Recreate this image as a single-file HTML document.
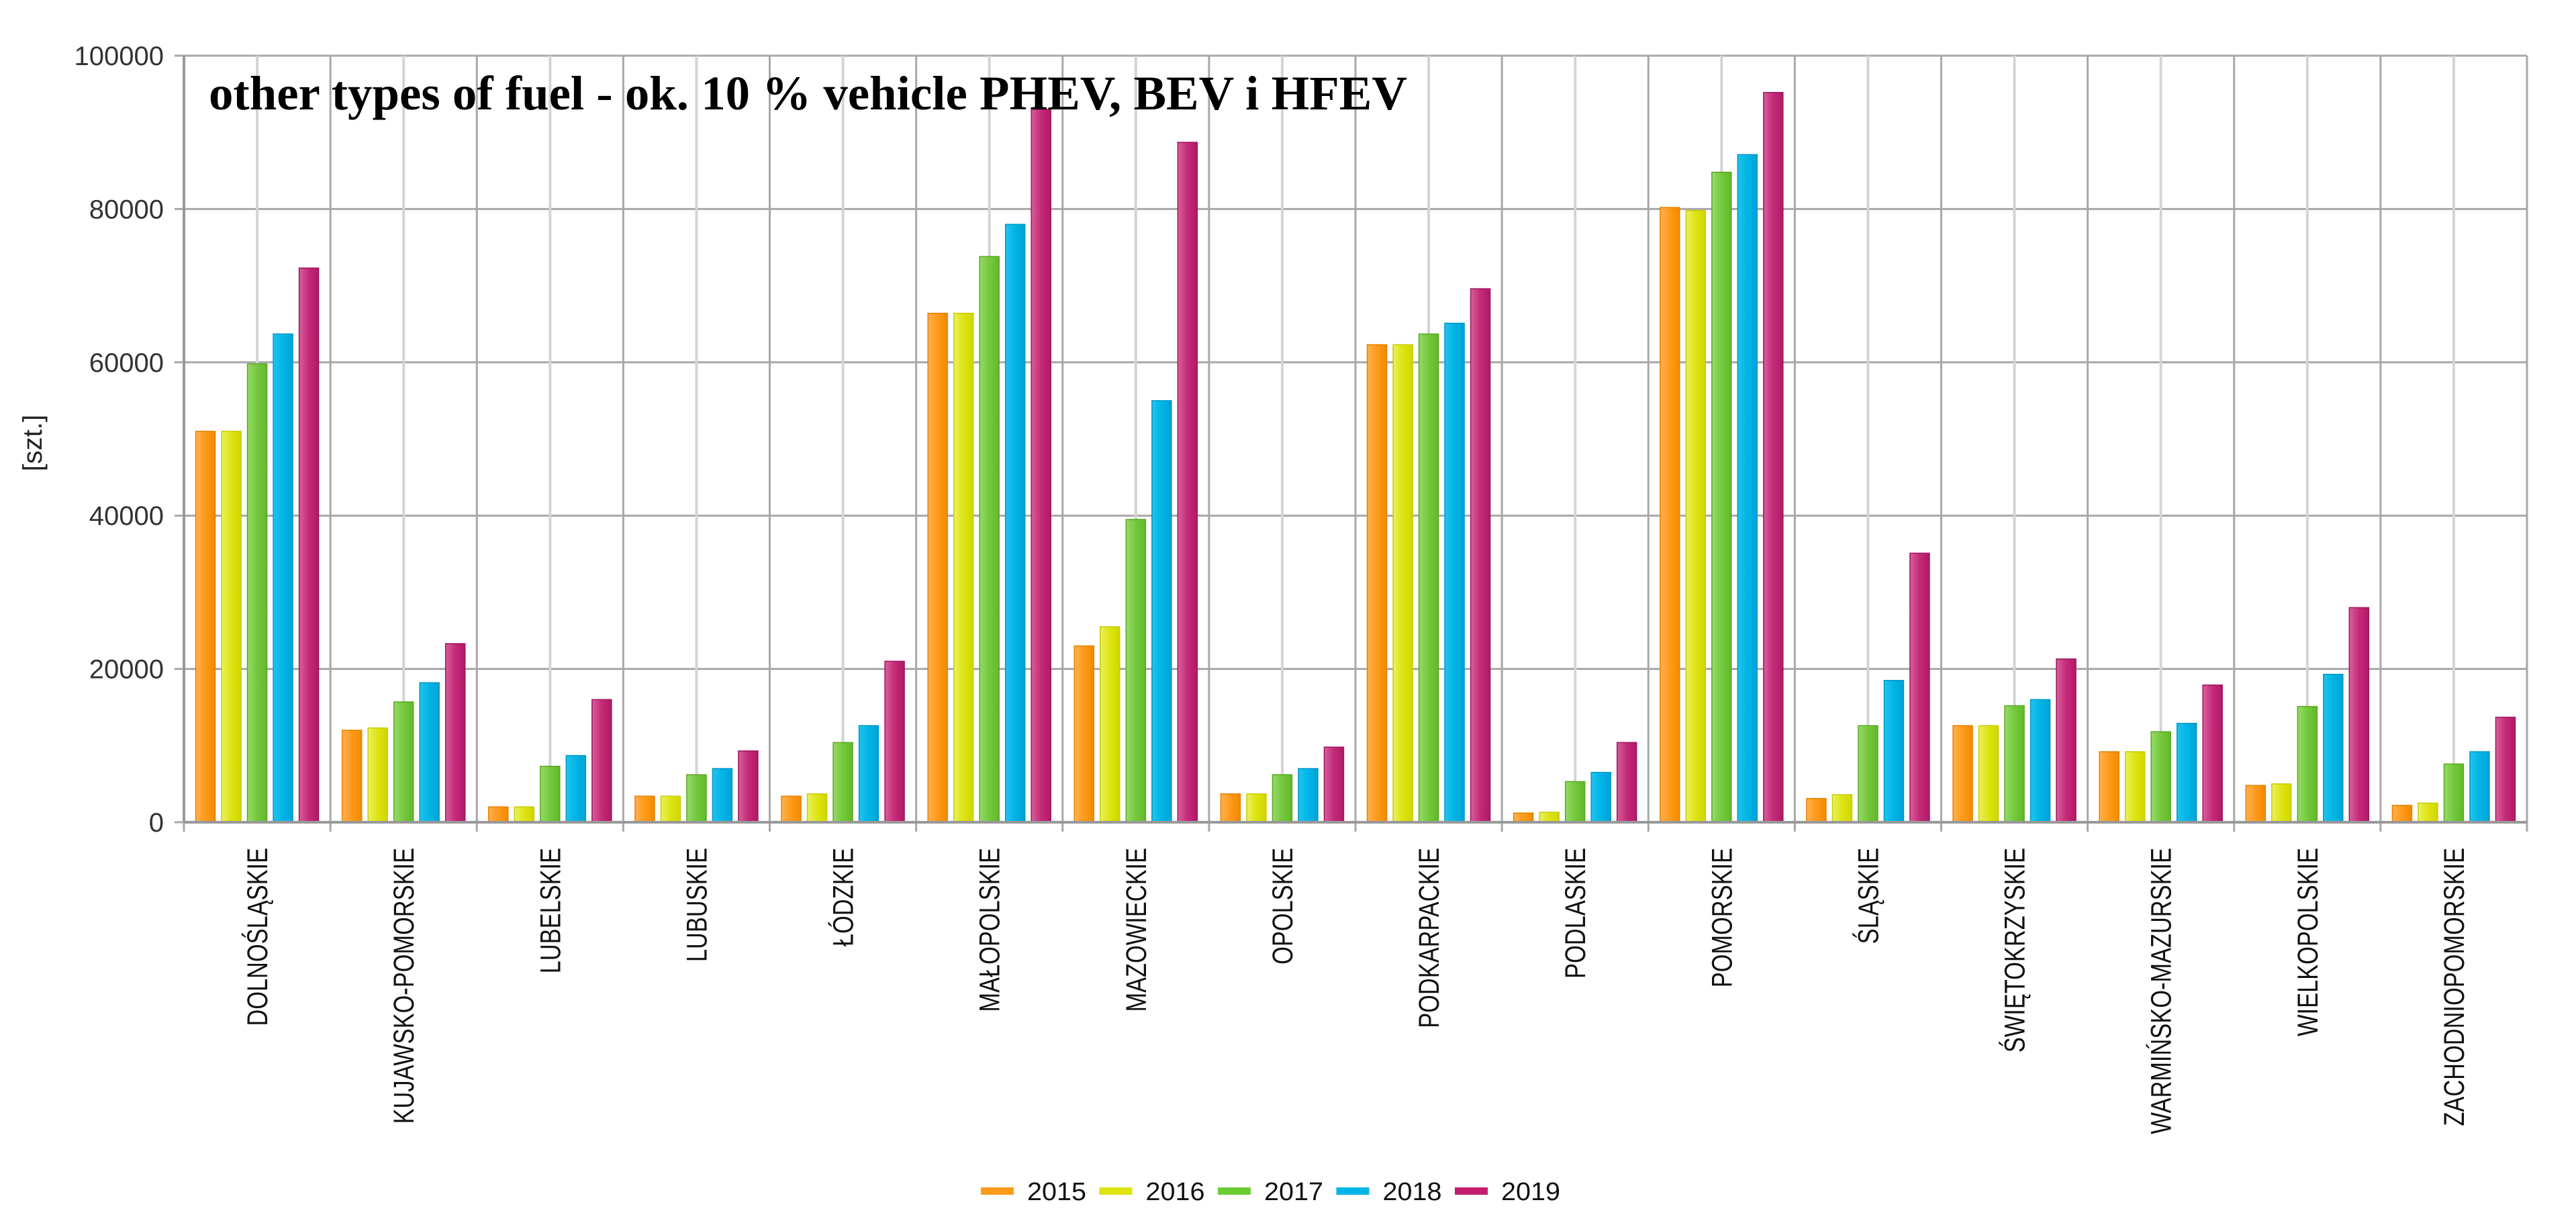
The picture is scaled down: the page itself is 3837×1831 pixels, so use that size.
<!DOCTYPE html>
<html><head><meta charset="utf-8"><style>
html,body{margin:0;padding:0;background:#fff;}
svg{display:block;}
</style></head><body>
<svg id="chart" width="3837" height="1831" viewBox="0 0 3837 1831" xmlns="http://www.w3.org/2000/svg">
<defs>
<linearGradient id="g0" x1="0" x2="1"><stop offset="0" stop-color="#ffb050"/><stop offset="0.5" stop-color="#ff9a1a"/><stop offset="1" stop-color="#f08a00"/></linearGradient>
<linearGradient id="g1" x1="0" x2="1"><stop offset="0" stop-color="#eaf060"/><stop offset="0.5" stop-color="#dde410"/><stop offset="1" stop-color="#cfd600"/></linearGradient>
<linearGradient id="g2" x1="0" x2="1"><stop offset="0" stop-color="#96da6a"/><stop offset="0.5" stop-color="#74c83c"/><stop offset="1" stop-color="#62b82a"/></linearGradient>
<linearGradient id="g3" x1="0" x2="1"><stop offset="0" stop-color="#20c4ee"/><stop offset="0.5" stop-color="#00b4e6"/><stop offset="1" stop-color="#00a2d6"/></linearGradient>
<linearGradient id="g4" x1="0" x2="1"><stop offset="0" stop-color="#d8609a"/><stop offset="0.5" stop-color="#c42a78"/><stop offset="1" stop-color="#b01a66"/></linearGradient>
</defs>
<g id="grid"></g>
<g id="bars"></g>
<g id="axes"></g>
<text x="311" y="163" font-family="Liberation Serif, serif" font-weight="bold" font-size="72" fill="#000" textLength="1785" lengthAdjust="spacingAndGlyphs">other types of fuel - ok. 10 % vehicle PHEV, BEV i HFEV</text>
<text transform="translate(62,660) rotate(-90)" text-anchor="middle" font-family="Liberation Sans, sans-serif" font-size="40" fill="#222">[szt.]</text>
<g id="legend"></g>
</svg>
<script>
const categories = ["DOLNOŚLĄSKIE","KUJAWSKO-POMORSKIE","LUBELSKIE","LUBUSKIE","ŁÓDZKIE","MAŁOPOLSKIE","MAZOWIECKIE","OPOLSKIE","PODKARPACKIE","PODLASKIE","POMORSKIE","ŚLĄSKIE","ŚWIĘTOKRZYSKIE","WARMIŃSKO-MAZURSKIE","WIELKOPOLSKIE","ZACHODNIOPOMORSKIE"];
const seriesNames = ["2015","2016","2017","2018","2019"];
const s2015 = [51000,12000,2000,3400,3400,66400,23000,3700,62300,1200,80200,3100,12600,9200,4800,2200];
const s2016 = [51000,12300,2000,3400,3700,66400,25500,3700,62300,1300,79800,3600,12600,9200,5000,2500];
const s2017 = [59800,15700,7300,6200,10400,73800,39500,6200,63700,5300,84800,12600,15200,11800,15100,7600];
const s2018 = [63700,18200,8700,7000,12600,78000,55000,7000,65100,6500,87100,18500,16000,12900,19300,9200];
const s2019 = [72300,23300,16000,9300,21000,93000,88700,9800,69600,10400,95200,35100,21300,17900,28000,13700];
const yTicks = [0,20000,40000,60000,80000,100000];

const series = [s2015,s2016,s2017,s2018,s2019];
const fills = ["url(#g0)","url(#g1)","url(#g2)","url(#g3)","url(#g4)"];
const strokes = ["#e88000","#c8cc00","#5aa820","#0098c8","#a01460"];
const solid = ["#ff9a1a","#dde410","#6ccc34","#00b4e6","#c41e6e"];
const L=274,R=3764,T=83,B=1225,YMAX=100000;
const NS="http://www.w3.org/2000/svg";
const gw=(R-L)/categories.length;
function y(v){return B-(v/YMAX)*(B-T);}
function gx(i){return L+i*gw;}
function mk(tag,attrs,parent){const e=document.createElementNS(NS,tag);for(const k in attrs)e.setAttribute(k,attrs[k]);parent.appendChild(e);return e;}
const grid=document.getElementById('grid'),bars=document.getElementById('bars'),axes=document.getElementById('axes'),legend=document.getElementById('legend');
yTicks.forEach(t=>{
  const ln=mk('line',{x1:L-14,x2:R,y1:y(t),y2:y(t),stroke:'#a8a8a8','stroke-width':3},grid);
  
  
  const tx=mk('text',{x:L-30,y:y(t)+14,'text-anchor':'end','font-family':'Liberation Sans, sans-serif','font-size':40,fill:'#333'},axes);
  tx.textContent=t;
  
  
});
for(let i=0;i<=categories.length;i++){
  const ln=mk('line',{x1:gx(i),x2:gx(i),y1:T,y2:B+14,stroke:'#a8a8a8','stroke-width':3},grid);
  
  
  if(i<categories.length){
    const c=mk('line',{x1:gx(i)+gw/2,x2:gx(i)+gw/2,y1:T,y2:B,stroke:'#d4d4d4','stroke-width':4},grid);
    
    
  }
}
const bw=29,pitch=38.5;
categories.forEach((cat,i)=>{
  const cx=gx(i)+gw/2;
  series.forEach((s,j)=>{
    const x=cx-(2*pitch)-bw/2+j*pitch;
    const r=mk('rect',{x:x,y:y(s[i]),width:bw,height:B-y(s[i]),fill:fills[j],stroke:strokes[j],'stroke-width':1.5},bars);
    
    
  });
  const t=mk('text',{transform:`translate(${cx+15},1263) rotate(-90) scale(0.8,1)`,'text-anchor':'end','font-family':'Liberation Sans, sans-serif','font-size':43,fill:'#111'},axes);
  t.textContent=cat;
  
  
});
const ax=mk('line',{x1:L,x2:R,y1:B,y2:B,stroke:'#999','stroke-width':4},axes);


const ay=mk('line',{x1:L,x2:L,y1:T,y2:B,stroke:'#999','stroke-width':4},axes);


seriesNames.forEach((n,j)=>{
  const x0=1461+j*176.5;
  const sw=mk('rect',{x:x0,y:1769,width:49,height:11,fill:solid[j]},legend);
  
  
  const t=mk('text',{x:x0+69,y:1788,'font-family':'Liberation Sans, sans-serif','font-size':38,fill:'#111',textLength:88,lengthAdjust:'spacingAndGlyphs'},legend);
  t.textContent=n;
  
  
});
</script>
</body></html>
